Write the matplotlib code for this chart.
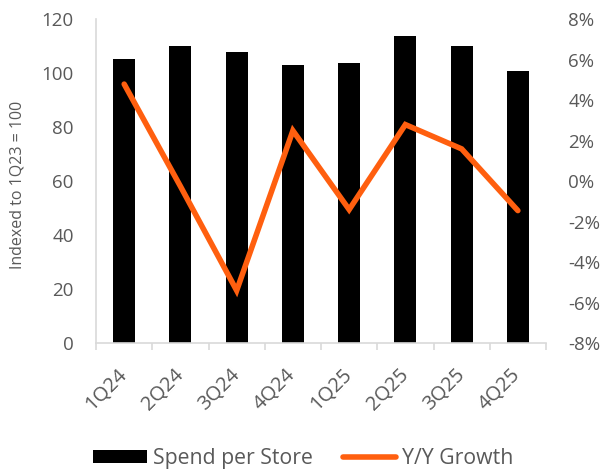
import numpy as np
import matplotlib.pyplot as plt
from matplotlib.lines import Line2D
from matplotlib.patches import Patch
from matplotlib.ticker import FuncFormatter
from matplotlib.transforms import ScaledTranslation

# Values
quarters = ['1Q24', '2Q24', '3Q24', '4Q24', '1Q25', '2Q25', '3Q25', '4Q25']
spend_per_store = [105.2, 110.0, 107.8, 103.0, 103.7, 113.7, 110.0, 100.7]
yy_growth = [4.8, -0.25, -5.4, 2.5, -1.4, 2.8, 1.6, -1.45]

text_gray = '#595959'
axis_gray = '#d9d9d9'
orange = '#ff5f0f'

plt.rcParams['font.family'] = ['Open Sans', 'DejaVu Sans']

fig = plt.figure(figsize=(6.08, 4.72), dpi=100)
ax = fig.add_axes([0.158, 0.273, 0.740, 0.686])
ax2 = ax.twinx()

x = np.arange(len(quarters))
ax.bar(x, spend_per_store, width=0.39, color='black', zorder=2)
ax2.plot(x, yy_growth, color=orange, linewidth=4, solid_capstyle='round',
         solid_joinstyle='miter', zorder=3)

ax.set_xlim(-0.5, len(quarters) - 0.5)
ax.set_ylim(0, 120)
ax.set_yticks(range(0, 121, 20))
ax2.set_ylim(-8, 8)
ax2.set_yticks(range(-8, 9, 2))
ax2.yaxis.set_major_formatter(FuncFormatter(lambda v, p: f'{v:.0f}%'))

ax.set_xticks(x)
ax.set_xticklabels(quarters, rotation=45, ha='right', va='center',
                   rotation_mode='anchor', fontsize=14.5, color=text_gray)
# push rotated labels a bit right, like the reference
for lbl in ax.get_xticklabels():
    lbl.set_transform(lbl.get_transform() +
                      ScaledTranslation(0.10, 0, fig.dpi_scale_trans))
ax.set_xticks(np.arange(-0.5, len(quarters)), minor=True)
ax.tick_params(axis='x', which='major', length=0, pad=21)
ax.tick_params(axis='x', which='minor', length=5, color=axis_gray, width=1.2)
ax.tick_params(axis='y', length=0, labelsize=13.5, labelcolor=text_gray, pad=16)
ax2.tick_params(axis='y', length=0, labelsize=13.5, labelcolor=text_gray, pad=16)

for a in (ax, ax2):
    a.spines['top'].set_visible(False)
    a.spines['right'].set_visible(False)
ax2.spines['left'].set_visible(False)
ax2.spines['bottom'].set_visible(False)
ax.spines['left'].set_color(axis_gray)
ax.spines['left'].set_linewidth(1.2)
ax.spines['bottom'].set_color(axis_gray)
ax.spines['bottom'].set_linewidth(1.2)

ax.set_ylabel('Indexed to 1Q23 = 100', fontsize=11.5, color=text_gray)
ax.yaxis.set_label_coords(-0.157, 0.49)

handles = [Patch(facecolor='black', edgecolor='none'),
           Line2D([0], [0], color=orange, linewidth=4, solid_capstyle='round')]
fig.legend(handles, ['Spend per Store', 'Y/Y Growth'], loc='center',
           bbox_to_anchor=(0.499, 0.028), ncol=2, frameon=False, fontsize=15.3,
           labelcolor=text_gray, handlelength=2.5, handleheight=0.55,
           handletextpad=0.3, columnspacing=1.4)

fig.savefig('out.png', dpi=100)
